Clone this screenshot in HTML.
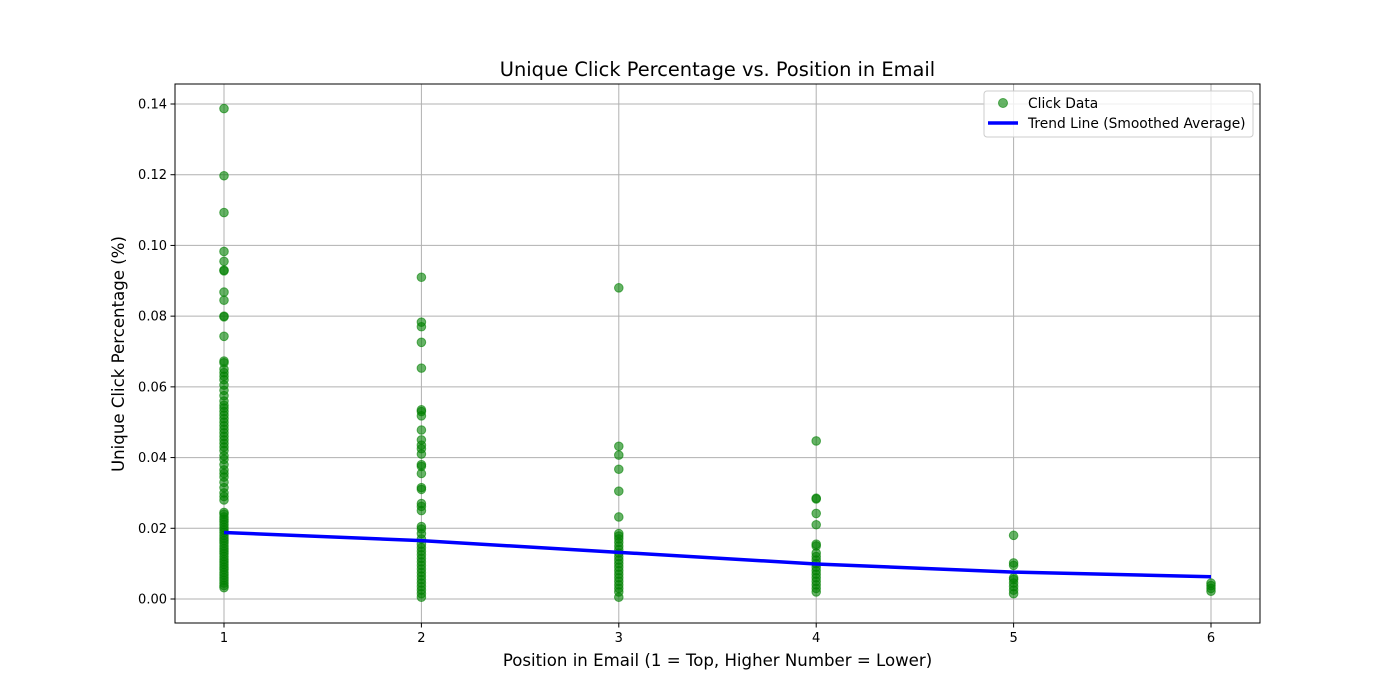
<!DOCTYPE html>
<html><head><meta charset="utf-8"><style>
body{margin:0;background:#fff;}
svg{display:block;font-family:"DejaVu Sans","Liberation Sans",sans-serif;}
</style></head><body>
<svg id="chart" width="1400" height="700">
<rect width="1400" height="700" fill="#fff"/>
<g id="grid"></g>
<g id="points"></g>
<g id="trend"></g>
<rect x="175" y="84" width="1085" height="539" fill="none" stroke="#000" stroke-width="1"/>
<g id="ticks"></g>
<text x="717.5" y="76" text-anchor="middle" font-size="19.4">Unique Click Percentage vs. Position in Email</text>
<text x="717.5" y="666" text-anchor="middle" font-size="16.6">Position in Email (1 = Top, Higher Number = Lower)</text>
<text transform="translate(124,354) rotate(-90)" text-anchor="middle" font-size="16.6">Unique Click Percentage (%)</text>
<g>
<rect x="984" y="91" width="269" height="46" rx="3" fill="#fff" fill-opacity="0.8" stroke="#ccc"/>
<circle cx="1003" cy="103" r="4.5" fill="#008000" fill-opacity="0.6" stroke="#008000" stroke-opacity="0.6"/>
<text x="1028" y="108" font-size="13.8">Click Data</text>
<line x1="988" y1="123" x2="1018" y2="123" stroke="#0000ff" stroke-width="3.5"/>
<text x="1028" y="128" font-size="13.8">Trend Line (Smoothed Average)</text>
</g>
</svg>
<script>
const xTicks=[1,2,3,4,5,6];
const yTicks=[0,0.02,0.04,0.06,0.08,0.10,0.12,0.14];
const yTickLabels=["0.00","0.02","0.04","0.06","0.08","0.10","0.12","0.14"];
const pos1=[0.1387,0.1197,0.1093,0.0983,0.0955,0.0930,0.0928,0.0868,0.0845,0.0800,0.0798,0.0743,0.0673,0.0668,0.0650,0.0640,0.0630,0.0620,0.0605,0.0590,0.0575,0.0560,0.0548,0.0540,0.0530,0.0520,0.0510,0.0500,0.0490,0.0480,0.0470,0.0460,0.0450,0.0440,0.0430,0.0420,0.0405,0.0395,0.0380,0.0365,0.0355,0.0345,0.0330,0.0315,0.0300,0.0290,0.0280,0.0245,0.0240,0.0232,0.0225,0.0218,0.0210,0.0202,0.0195,0.0188,0.0180,0.0172,0.0165,0.0158,0.0150,0.0142,0.0135,0.0128,0.0120,0.0112,0.0105,0.0098,0.0090,0.0083,0.0075,0.0068,0.0060,0.0053,0.0045,0.0038,0.0032];
const pos2=[0.0910,0.0783,0.0770,0.0726,0.0653,0.0535,0.0530,0.0518,0.0478,0.0450,0.0435,0.0425,0.0410,0.0380,0.0375,0.0355,0.0315,0.0310,0.0270,0.0262,0.0250,0.0205,0.0198,0.0185,0.0170,0.0155,0.0145,0.0135,0.0125,0.0115,0.0105,0.0095,0.0085,0.0075,0.0065,0.0055,0.0045,0.0035,0.0025,0.0015,0.0005];
const pos3=[0.0880,0.0432,0.0407,0.0367,0.0305,0.0232,0.0185,0.0178,0.0170,0.0160,0.0150,0.0140,0.0130,0.0120,0.0110,0.0100,0.0090,0.0080,0.0070,0.0060,0.0050,0.0040,0.0030,0.0020,0.0005];
const pos4=[0.0447,0.0285,0.0283,0.0242,0.0210,0.0155,0.0150,0.0130,0.0120,0.0110,0.0100,0.0090,0.0080,0.0070,0.0060,0.0050,0.0040,0.0030,0.0020];
const pos5=[0.0180,0.0102,0.0095,0.0060,0.0055,0.0045,0.0035,0.0025,0.0015];
const pos6=[0.0045,0.0038,0.0030,0.0022];
const trendX=[1,2,3,4,5,6];
const trendY=[0.0188,0.0165,0.0132,0.0099,0.0076,0.0063];

const NS="http://www.w3.org/2000/svg";
const L=175,R=1260,T=84,B=623;
function xs(v){return 224+(v-1)*197.4;}
function ys(v){return 599-v*3535.7;}
function mk(tag,attrs,parent){const e=document.createElementNS(NS,tag);for(const k in attrs)e.setAttribute(k,attrs[k]);parent.appendChild(e);return e;}
const grid=document.getElementById('grid'),ticks=document.getElementById('ticks');
xTicks.forEach(t=>{
 const g=mk('line',{x1:xs(t),x2:xs(t),y1:T,y2:B,stroke:'#b0b0b0','stroke-width':1},grid);
 
 
 const tk=mk('line',{x1:xs(t),x2:xs(t),y1:B,y2:B+4.5,stroke:'#000'},ticks);
 
 
 const tx=mk('text',{x:xs(t),y:B+19,'text-anchor':'middle','font-size':13},ticks);
 tx.textContent=t;
 
 
});
yTicks.forEach((t,i)=>{
 const g=mk('line',{x1:L,x2:R,y1:ys(t),y2:ys(t),stroke:'#b0b0b0','stroke-width':1},grid);
 
 
 const tk=mk('line',{x1:L-4.5,x2:L,y1:ys(t),y2:ys(t),stroke:'#000'},ticks);
 
 
 const tx=mk('text',{x:L-8,y:ys(t)+4.5,'text-anchor':'end','font-size':13},ticks);
 tx.textContent=yTickLabels[i];
 
 
});
const pts=document.getElementById('points');
[pos1,pos2,pos3,pos4,pos5,pos6].forEach((arr,i)=>{
 arr.forEach(v=>{
  const c=mk('circle',{cx:xs(i+1),cy:ys(v),r:4.3,fill:'#008000','fill-opacity':0.6,stroke:'#008000','stroke-opacity':0.6},pts);
  
  
 });
});
const tr=document.getElementById('trend');
const pl=mk('polyline',{points:trendX.map((x,i)=>xs(x)+','+ys(trendY[i])).join(' '),fill:'none',stroke:'#0000ff','stroke-width':3.5},tr);


</script>
</body></html>
